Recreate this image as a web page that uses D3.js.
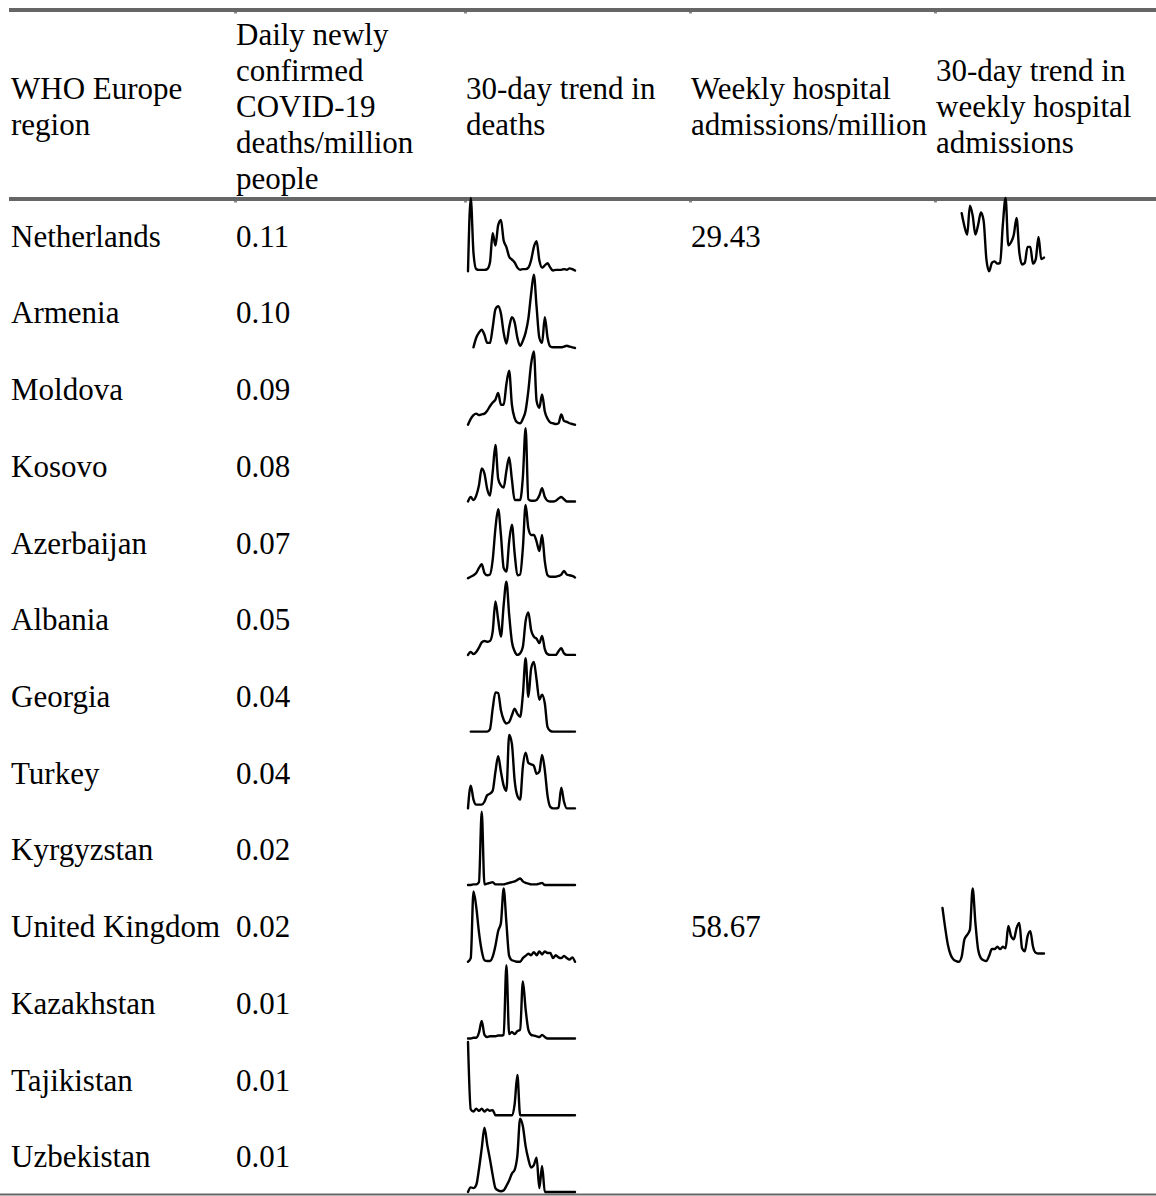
<!DOCTYPE html>
<html>
<head>
<meta charset="utf-8">
<script src="https://cdn.jsdelivr.net/npm/d3@7"></script>
<style>
  body { margin: 0; background: #fff; }
  text { font-family: "Liberation Serif", "Times New Roman", serif; font-size: 31px; fill: #000; }
</style>
</head>
<body>
<div id="chart"></div>
<script>
// table content
var regions = ["Netherlands", "Armenia", "Moldova", "Kosovo", "Azerbaijan", "Albania", "Georgia",
    "Turkey", "Kyrgyzstan", "United Kingdom", "Kazakhstan", "Tajikistan", "Uzbekistan"];
var deathsPerMillion = [0.11, 0.10, 0.09, 0.08, 0.07, 0.05, 0.04, 0.04, 0.02, 0.02, 0.01, 0.01, 0.01];
var hospPerMillion = [29.43, null, null, null, null, null, null, null, null, 58.67, null, null, null];

var headers = [
    ["WHO Europe", "region"],
    ["Daily newly", "confirmed", "COVID-19", "deaths/million", "people"],
    ["30-day trend in", "deaths"],
    ["Weekly hospital", "admissions/million"],
    ["30-day trend in", "weekly hospital", "admissions"]
];

// trend lines (relative daily values)
var deathsNetherlands = [0,100,25,3,2,2,2,3,12,52,35,63,70,42,33,20,16,12,5,2,3,3,5,15,33,41,15,5,8,11,5,1,2,2,2,3,2,4,3,1];
var deathsArmenia = [null,null,1,14,21,25,18,7,7,28,53,57,47,21,6,28,42,35,14,3,10,21,40,74,100,56,14,7,42,14,2,1,1,1,1,2,3,2,1,0];
var deathsMoldova = [1,9,14,16,14,15,16,20,26,31,35,44,28,28,56,74,28,10,4,3,9,20,47,83,100,33,24,42,19,9,4,3,2,3,15,6,5,3,2,1];
var deathsKosovo = [0,6,2,8,22,45,38,17,8,40,77,31,22,19,42,60,30,2,2,2,33,100,3,1,1,2,8,18,6,1,0,0,1,4,6,3,0,0,0,0];
var deathsAzerbaijan = [0,2,4,7,14,19,7,4,5,25,68,94,59,14,9,50,73,34,4,5,41,100,68,59,59,50,37,59,23,4,2,2,2,3,5,10,5,4,3,1];
var deathsAlbania = [0,4,1,4,10,17,19,18,19,32,73,48,25,68,100,55,18,5,0,2,11,46,58,34,25,22,16,26,8,1,0,0,0,5,9,2,0,0,0,0];
var deathsGeorgia = [null,0,0,0,0,0,0,0,3,31,53,52,29,16,11,13,22,31,24,20,50,99,47,85,94,70,43,50,38,6,1,0,0,0,0,0,0,0,0,0];
var deathsTurkey = [0,31,12,5,5,5,9,18,20,24,50,71,50,31,24,100,88,38,17,12,57,76,62,60,58,47,50,73,52,17,2,0,0,1,28,9,0,0,0,0];
var deathsKyrgyzstan = [0,0,1,1,4,100,1,2,3,4,1,1,1,1,2,3,4,5,7,9,5,3,2,1,1,1,2,3,0,0,0,0,0,0,0,0,0,0,0,0];
var deathsUnitedKingdom = [0,5,96,75,40,15,2,1,1,7,22,42,53,100,53,8,2,1,0,0,5,8,11,9,13,9,14,10,14,12,12,5,9,6,5,8,5,3,6,0];
var deathsKazakhstan = [0,0,1,1,8,24,5,2,3,3,3,4,4,5,100,6,9,6,10,12,78,40,12,5,4,3,2,5,2,0,0,0,0,0,0,0,0,0,0,0];
var deathsTajikistan = [100,8,5,9,6,9,5,8,6,7,0,0,0,0,0,0,0,15,55,0,0,0,0,0,0,0,0,0,0,0,0,0,0,0,0,0,0,0,0,0];
var deathsUzbekistan = [0,6,5,9,30,57,84,62,43,22,5,2,1,2,8,15,24,29,48,96,86,60,43,32,35,45,5,34,0,0,0,0,0,0,0,0,0,0,0,0];

var hospNetherlands = [null,null,null,null,null,null,null,null,null,80,63,52,90,77,52,65,81,70,20,4,15,17,14,15,65,100,38,42,52,74,29,13,15,36,36,14,20,49,20,22];
var hospUnitedKingdom = [null,null,72,45,22,9,3,1,0,7,30,36,43,98,52,16,5,2,1,8,17,17,20,17,20,18,48,34,30,45,52,18,14,34,41,20,12,11,11,11];

var deathTrends = [deathsNetherlands, deathsArmenia, deathsMoldova, deathsKosovo, deathsAzerbaijan,
    deathsAlbania, deathsGeorgia, deathsTurkey, deathsKyrgyzstan, deathsUnitedKingdom,
    deathsKazakhstan, deathsTajikistan, deathsUzbekistan];
var hospTrends = [hospNetherlands, null, null, null, null, null, null, null, null, hospUnitedKingdom, null, null, null];

var width = 1156, height = 1196;
var colX = [11, 236, 466, 691, 936];
var headBottom = 199;
var rowH = 76.72;
var lineGray = "#666";

var svg = d3.select("#chart").append("svg")
    .attr("width", width)
    .attr("height", height);

var y = d3.scaleBand()
    .domain(regions)
    .range([headBottom, headBottom + rowH * regions.length]);

// rules
svg.append("rect").attr("x", 9).attr("y", 8).attr("width", width - 9).attr("height", 4).attr("fill", lineGray);
svg.append("rect").attr("x", 9).attr("y", headBottom - 2).attr("width", width - 9).attr("height", 4).attr("fill", lineGray);
svg.append("rect").attr("x", 0).attr("y", Math.min(y.range()[1] - 1, height - 2.5)).attr("width", width).attr("height", 2).attr("fill", lineGray);

// little cell-edge marks under the rules
colX.slice(1).forEach(function(cx) {
    svg.append("rect").attr("x", cx - 2).attr("y", 12).attr("width", 3).attr("height", 1.5).attr("fill", "#888");
    svg.append("rect").attr("x", cx - 2).attr("y", headBottom + 2).attr("width", 3).attr("height", 1.5).attr("fill", "#888");
});

// header, lines centred vertically
var headMid = 117, headLine = 36;
headers.forEach(function(lines, c) {
    var t = svg.append("text").attr("x", colX[c]);
    lines.forEach(function(s, k) {
        t.append("tspan")
            .attr("x", colX[c])
            .attr("y", headMid + (k - (lines.length - 1) / 2) * headLine)
            .text(s);
    });
});

var fmt = d3.format(".2f");
var baseOff = 47.7;

var rows = svg.selectAll("g.row")
    .data(regions)
    .enter().append("g")
    .attr("class", "row")
    .attr("transform", function(d) { return "translate(0," + y(d) + ")"; });

rows.append("text").attr("x", colX[0]).attr("y", baseOff).text(function(d) { return d; });
rows.append("text").attr("x", colX[1]).attr("y", baseOff).text(function(d, i) { return fmt(deathsPerMillion[i]); });
rows.append("text").attr("x", colX[3]).attr("y", baseOff)
    .text(function(d, i) { return hospPerMillion[i] == null ? "" : fmt(hospPerMillion[i]); });

// sparklines
var sparkW = 107, sparkTop = -1, sparkBottom = 72.3;

function sparkline(g, series, x0) {
    var sx = d3.scaleLinear().domain([0, series.length - 1]).range([x0, x0 + sparkW]);
    var vals = series.filter(function(v) { return v != null; });
    var sy = d3.scaleLinear().domain(d3.extent(vals)).range([sparkBottom, sparkTop]);
    var line = d3.line()
        .defined(function(v) { return v != null; })
        .x(function(v, i) { return sx(i); })
        .y(function(v) { return sy(v); })
        .curve(d3.curveMonotoneX);
    g.append("path")
        .datum(series)
        .attr("d", line)
        .attr("fill", "none")
        .attr("stroke", "#000")
        .attr("stroke-width", 2.4)
        .attr("stroke-linejoin", "round")
        .attr("stroke-linecap", "round");
}

rows.each(function(d, i) {
    var g = d3.select(this);
    sparkline(g, deathTrends[i], colX[2] + 2);
    if (hospTrends[i]) sparkline(g, hospTrends[i], colX[4] + 1);
});
</script>
</body>
</html>
